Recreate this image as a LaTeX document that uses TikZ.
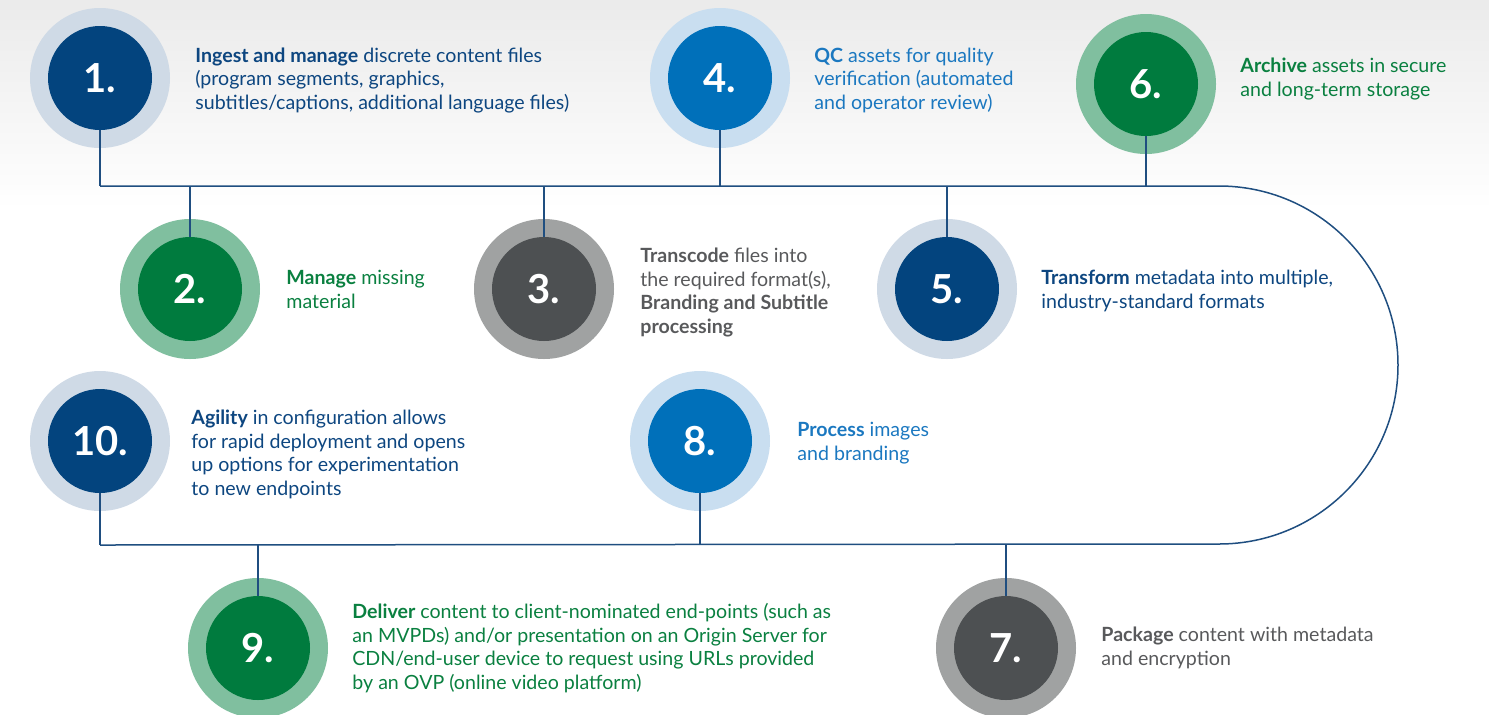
\documentclass[tikz,border=0pt]{standalone}
\usepackage{fontspec}
\setmainfont{Lato}
\definecolor{navyI}{HTML}{03447E}
\definecolor{navyO}{HTML}{CFDAE6}
\definecolor{navyT}{HTML}{0D4680}
\definecolor{blueI}{HTML}{0070BA}
\definecolor{blueO}{HTML}{C9DEF0}
\definecolor{blueT}{HTML}{1B78C0}
\definecolor{greenI}{HTML}{007B3E}
\definecolor{greenO}{HTML}{80BF9F}
\definecolor{greenT}{HTML}{0A8040}
\definecolor{grayI}{HTML}{4D5052}
\definecolor{grayO}{HTML}{A0A2A2}
\definecolor{grayT}{HTML}{58595B}
\definecolor{lineC}{HTML}{1F4E80}
\tikzset{
  ring/.style={circle, fill=#1, minimum size=70pt, inner sep=0pt},
  core/.style={circle, fill=#1, minimum size=52pt, inner sep=0pt, text=white, font=\fontsize{20pt}{20pt}\selectfont\bfseries},
  desc/.style={anchor=base west, align=left, inner sep=0pt, text=#1, font=\fontsize{9.8pt}{11.7pt}\selectfont},
  conn/.style={draw=lineC, line width=0.75pt}
}
\begin{document}
\begin{tikzpicture}[x=0.5pt,y=-0.5pt]
\useasboundingbox (0,0) rectangle (1489,714);
\fill[top color=black!8, bottom color=white] (0,0) rectangle (1489,210);
% main timeline
\coordinate (t1) at (100,186);
\coordinate (t2) at (190,186);
\coordinate (t3) at (544,186);
\coordinate (t4) at (720,186);
\coordinate (t5) at (947,186);
\coordinate (t6) at (1146,186);
\coordinate (tr) at (1219,186);
\coordinate (b10) at (100,545);
\coordinate (b9) at (258,545);
\coordinate (b8) at (700,545);
\coordinate (b7) at (1006,545);
\draw[conn] (t1) -- (tr) arc[start angle=-90, end angle=90, radius=179] -- (b10);
% rings
\node[ring=navyO] (r1) at (100,78) {};
\node[ring=blueO] (r4) at (720,78) {};
\node[ring=greenO] (r6) at (1146,84) {};
\node[ring=greenO] (r2) at (190,289) {};
\node[ring=grayO] (r3) at (544,289) {};
\node[ring=navyO] (r5) at (947,289) {};
\node[ring=navyO] (r10) at (100,441) {};
\node[ring=blueO] (r8) at (700,441) {};
\node[ring=greenO] (r9) at (258,648) {};
\node[ring=grayO] (r7) at (1006,648) {};
% connectors
\draw[conn] (t1) -- (r1.center);
\draw[conn] (t4) -- (r4.center);
\draw[conn] (t6) -- (r6.center);
\draw[conn] (t2) -- (r2.center);
\draw[conn] (t3) -- (r3.center);
\draw[conn] (t5) -- (r5.center);
\draw[conn] (b10) -- (r10.center);
\draw[conn] (b8) -- (r8.center);
\draw[conn] (b9) -- (r9.center);
\draw[conn] (b7) -- (r7.center);
% cores
\node[core=navyI] (c1) at (r1) {1.};
\node[core=blueI] (c4) at (r4) {4.};
\node[core=greenI] (c6) at (r6) {6.};
\node[core=greenI] (c2) at (r2) {2.};
\node[core=grayI] (c3) at (r3) {3.};
\node[core=navyI] (c5) at (r5) {5.};
\node[core=navyI] (c10) at (r10) {10.};
\node[core=blueI] (c8) at (r8) {8.};
\node[core=greenI] (c9) at (r9) {9.};
\node[core=grayI] (c7) at (r7) {7.};
% descriptions (anchored at the baseline of the last line)
\node[desc=navyT] (d1) at (195,109) {\textbf{Ingest and manage} discrete content files\\(program segments, graphics,\\subtitles/captions, additional language files)};
\node[desc=blueT] (d4) at (814,109) {\textbf{QC} assets for quality\\verification (automated\\and operator review)};
\node[desc=greenT] (d6) at (1240,96) {\textbf{Archive} assets in secure\\and long-term storage};
\node[desc=greenT] (d2) at (286,308) {\textbf{Manage} missing\\material};
\node[desc=grayT] (d3) at (640,333) {\textbf{Transcode} files into\\the required format(s),\\\textbf{Branding and Subtitle}\\\textbf{processing}};
\node[desc=navyT] (d5) at (1041,308) {\textbf{Transform} metadata into multiple,\\industry-standard formats};
\node[desc=navyT] (d10) at (191,495) {\textbf{Agility} in configuration allows\\for rapid deployment and opens\\up options for experimentation\\to new endpoints};
\node[desc=blueT] (d8) at (797,460) {\textbf{Process} images\\and branding};
\node[desc=greenT] (d9) at (352,689) {\textbf{Deliver} content to client-nominated end-points (such as\\an MVPDs) and/or presentation on an Origin Server for\\CDN/end-user device to request using URLs provided\\by an OVP (online video platform)};
\node[desc=grayT] (d7) at (1101,665) {\textbf{Package} content with metadata\\and encryption};
\end{tikzpicture}
\end{document}
